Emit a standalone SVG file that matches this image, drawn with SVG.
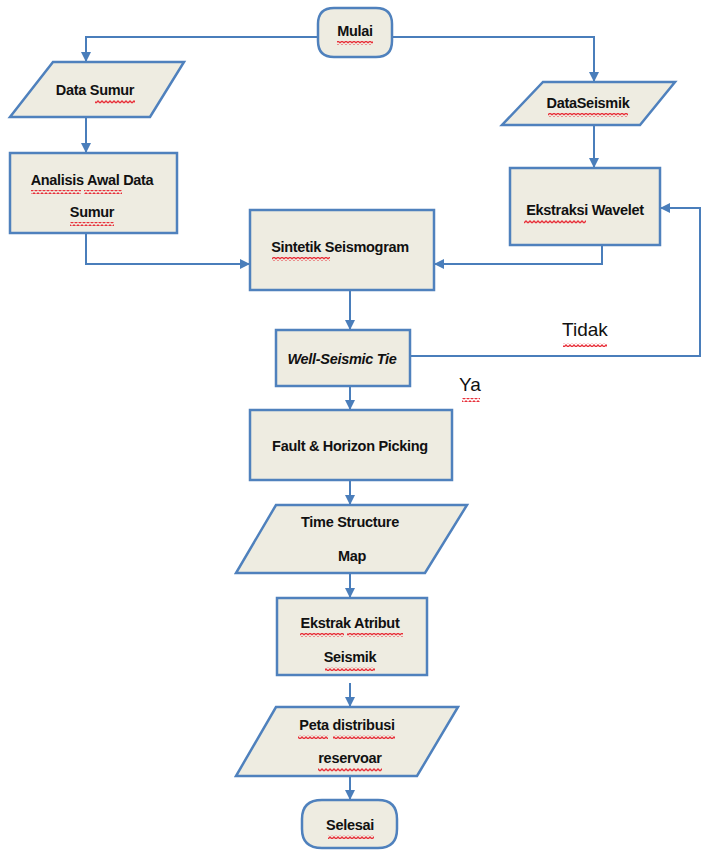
<svg xmlns="http://www.w3.org/2000/svg" width="704" height="856" viewBox="0 0 704 856">
<defs>
<style>
.n{fill:#EEECE1;stroke:#4F81BD;stroke-width:2.5}
.t{font-family:"Liberation Sans Narrow","Liberation Sans",Arial,sans-serif;font-weight:bold;font-size:14.5px;fill:#111;text-anchor:middle;letter-spacing:-0.3px}
.l{font-family:"Liberation Sans Narrow","Liberation Sans",Arial,sans-serif;font-size:19px;fill:#111;text-anchor:middle}
.c{fill:none;stroke:#4A7EBB;stroke-width:2}
.sq{fill:url(#wave)}
</style>
<pattern id="wave" width="4" height="4" patternUnits="userSpaceOnUse">
<path d="M0 3 L2 1 L4 3" fill="none" stroke="#E8303A" stroke-width="1.3"/>
</pattern>
<marker id="ar" viewBox="0 0 10 10" refX="9" refY="5" markerWidth="5" markerHeight="5" orient="auto" markerUnits="strokeWidth">
<path d="M0 0 L10 5 L0 10 z" fill="#4A7EBB"/>
</marker>
</defs>
<rect width="704" height="856" fill="#fff"/>
<g id="connectors">
<path class="c" d="M318 37 H86 V61" marker-end="url(#ar)"/>
<path class="c" d="M392 37 H594 V81" marker-end="url(#ar)"/>
<path class="c" d="M86 117 V152" marker-end="url(#ar)"/>
<path class="c" d="M594 125 V167" marker-end="url(#ar)"/>
<path class="c" d="M86 233 V264 H249" marker-end="url(#ar)"/>
<path class="c" d="M602 245 V264 H435" marker-end="url(#ar)"/>
<path class="c" d="M350 290 V329" marker-end="url(#ar)"/>
<path class="c" d="M410 356 H700 V208 H661" marker-end="url(#ar)"/>
<path class="c" d="M350 386 V409" marker-end="url(#ar)"/>
<path class="c" d="M350 480 V504" marker-end="url(#ar)"/>
<path class="c" d="M350 573 V597" marker-end="url(#ar)"/>
<path class="c" d="M350 683 V706" marker-end="url(#ar)"/>
<path class="c" d="M350 776 V799" marker-end="url(#ar)"/>
</g>
<g id="mulai">
<path class="n" d="M334 8 H376 Q392 8 392 24 V41 Q392 57 376 57 H334 Q318 57 318 41 V24 Q318 8 334 8 Z"/>
<text class="t" x="355" y="36">Mulai</text>
<rect class="sq" x="337" y="41" width="36" height="4"/>
</g>
<g id="data-sumur">
<polygon class="n" points="53,62 184,62 150,117 10,117"/>
<text class="t" x="95" y="95">Data Sumur</text>
<rect class="sq" x="95" y="100" width="40" height="4"/>
</g>
<g id="data-seismik">
<polygon class="n" points="543,82 675,82 640,125 502,125"/>
<text class="t" x="588" y="108">DataSeismik</text>
<rect class="sq" x="548" y="113" width="80" height="4"/>
</g>
<g id="analisis">
<rect class="n" x="10" y="153" width="167" height="80"/>
<text class="t" x="92" y="185">Analisis Awal Data</text>
<text class="t" x="92" y="217">Sumur</text>
<rect class="sq" x="31" y="190" width="50" height="4"/>
<rect class="sq" x="84" y="190" width="38" height="4"/>
<rect class="sq" x="70" y="222" width="44" height="4"/>
</g>
<g id="ekstraksi">
<rect class="n" x="510" y="168" width="150" height="77"/>
<text class="t" x="585" y="215">Ekstraksi Wavelet</text>
<rect class="sq" x="524" y="220" width="62" height="4"/>
</g>
<g id="sintetik">
<rect class="n" x="250" y="210" width="184" height="80"/>
<text class="t" x="340" y="252">Sintetik Seismogram</text>
<rect class="sq" x="272" y="257" width="58" height="4"/>
</g>
<g id="well-seismic-tie">
<rect class="n" x="276" y="330" width="134" height="56"/>
<text class="t" x="342" y="364" font-style="italic">Well-Seismic Tie</text>
</g>
<g id="fault">
<rect class="n" x="250" y="410" width="202" height="70"/>
<text class="t" x="350" y="451">Fault &amp; Horizon Picking</text>
</g>
<g id="time-structure">
<polygon class="n" points="276,505 467,505 425,573 236,573"/>
<text class="t" x="350" y="527">Time Structure</text>
<text class="t" x="352" y="561">Map</text>
</g>
<g id="ekstrak-atribut">
<rect class="n" x="277" y="598" width="150" height="77"/>
<text class="t" x="350" y="628">Ekstrak Atribut</text>
<text class="t" x="350" y="662">Seismik</text>
<rect class="sq" x="300" y="633" width="44" height="4"/>
<rect class="sq" x="347" y="633" width="56" height="4"/>
<rect class="sq" x="325" y="667" width="50" height="4"/>
</g>
<g id="peta">
<polygon class="n" points="276,707 458,707 417,776 236,776"/>
<text class="t" x="347" y="730">Peta distribusi</text>
<text class="t" x="350" y="763">reservoar</text>
<rect class="sq" x="298" y="735" width="30" height="4"/>
<rect class="sq" x="333" y="735" width="62" height="4"/>
<rect class="sq" x="318" y="768" width="64" height="4"/>
</g>
<g id="selesai">
<path class="n" d="M322 800 H378 Q397 800 397 819 V829 Q397 848 378 848 H322 Q302 848 302 829 V819 Q302 800 322 800 Z"/>
<text class="t" x="350" y="830">Selesai</text>
<rect class="sq" x="328" y="835" width="46" height="4"/>
</g>
<g id="labels">
<text class="l" x="585" y="336">Tidak</text>
<rect class="sq" x="563" y="343" width="44" height="4"/>
<text class="l" x="470" y="391">Ya</text>
<rect class="sq" x="462" y="398" width="18" height="4"/>
</g>
</svg>
